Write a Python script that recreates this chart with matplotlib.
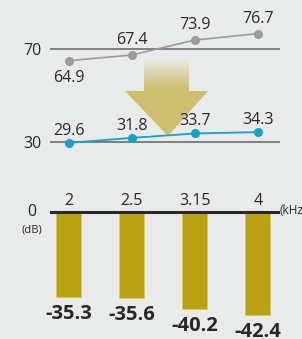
import numpy as np
import matplotlib
matplotlib.use('Agg')
from matplotlib import pyplot as plt
from matplotlib.patches import Polygon

freqs = ['2', '2.5', '3.15', '4']
before = [64.9, 67.4, 73.9, 76.7]
after = [29.6, 31.8, 33.7, 34.3]
reduction = [-35.3, -35.6, -40.2, -42.4]

BG = '#e9eaea'
TXT = '#2b2728'
W, H = 302, 339

plt.rcParams['font.family'] = ['Open Sans', 'DejaVu Sans']

fig = plt.figure(figsize=(W/100, H/100), dpi=100)
fig.patch.set_facecolor(BG)

def px_axes(x0, y0, x1, y1, **kw):
    # rect given in pixels from top-left
    return fig.add_axes([x0/W, 1-y1/H, (x1-x0)/W, (y1-y0)/H], **kw)

# background arrow with a fading shaft
ab = px_axes(0, 0, W, H, zorder=0)
ab.set_xlim(0, W)
ab.set_ylim(H, 0)
ab.axis('off')
arrow = Polygon([(144, 58), (189, 58), (189, 91), (208, 91), (168, 136),
                 (125, 91), (144, 91)], closed=True, facecolor='none', edgecolor='none')
ab.add_patch(arrow)
grad = np.ones((100, 2, 4))
grad[..., 0] = 207/255
grad[..., 1] = 190/255
grad[..., 2] = 112/255
t = np.clip((np.linspace(58, 136, 100) - 58) / 30.0, 0, 1)
grad[..., 3] = t[:, None]
im = ab.imshow(grad, extent=(120, 212, 136, 58), aspect='auto', interpolation='bilinear')
im.set_clip_path(arrow)

xs = np.arange(len(freqs))
xl = (-0.30, 3.35)

def clean(ax):
    ax.patch.set_alpha(0)
    for s in ax.spines.values():
        s.set_visible(False)
    ax.set_xlim(*xl)
    ax.set_xticks([])
    ax.tick_params(axis='y', length=0, pad=6, labelsize=11.5, labelcolor=TXT)

# upper line (before)
a1 = px_axes(50, 15, 280, 80, zorder=2)
clean(a1)
a1.set_ylim(56.52, 84.78)
a1.set_yticks([70])
a1.axhline(70, color='#6d6d6d', lw=1.2, zorder=1)
a1.plot(xs, before, color='#9b9b9b', lw=1.2, marker='o', ms=5.5, zorder=3, clip_on=False)
for i, v in enumerate(before):
    off = -7 if i == 0 else 5
    a1.annotate(f'{v}', (xs[i], v), xytext=(0, off), textcoords='offset points',
                ha='center', va='top' if off < 0 else 'bottom', fontsize=11.5, color=TXT)

# lower line (after)
a2 = px_axes(50, 110, 280, 150, zorder=2)
clean(a2)
a2.set_ylim(26.52, 43.91)
a2.set_yticks([30])
a2.axhline(30, color='#6d6d6d', lw=1.2, zorder=1)
a2.plot(xs, after, color='#17a0c8', lw=1.3, marker='o', ms=5.5, zorder=3, clip_on=False)
for i, v in enumerate(after):
    a2.annotate(f'{v}', (xs[i], v), xytext=(0, 3), textcoords='offset points',
                ha='center', va='bottom', fontsize=11.5, color=TXT)

# bars (reduction)
a3 = px_axes(50, 195, 280, 339, zorder=2)
clean(a3)
a3.set_ylim(-52.5, 7.02)
a3.set_yticks([])
a3.bar(xs, reduction, width=25/63, color='#baa013', edgecolor='#d8c860', linewidth=0.6, zorder=2)
a3.axhline(0, color=TXT, lw=2.2, zorder=3)
for i, v in enumerate(reduction):
    a3.text(xs[i], 1.2, freqs[i], ha='center', va='bottom', fontsize=11.5, color=TXT)
    a3.annotate(f'{v}', (xs[i], v), xytext=(0, -5), textcoords='offset points',
                ha='center', va='top', fontsize=14.5, fontweight='bold', color=TXT,
                annotation_clip=False)
a3.text(1.0, 0.89, '(kHz', transform=a3.transAxes, ha='left', va='center',
        fontsize=8.5, color=TXT, clip_on=False)
fig.text(32/W, 1-212/H, '0', ha='center', va='center', fontsize=11.5, color=TXT)
fig.text(32/W, 1-230/H, '(dB)', ha='center', va='center', fontsize=8, color=TXT)

fig.savefig('out.png', dpi=100, facecolor=BG)
